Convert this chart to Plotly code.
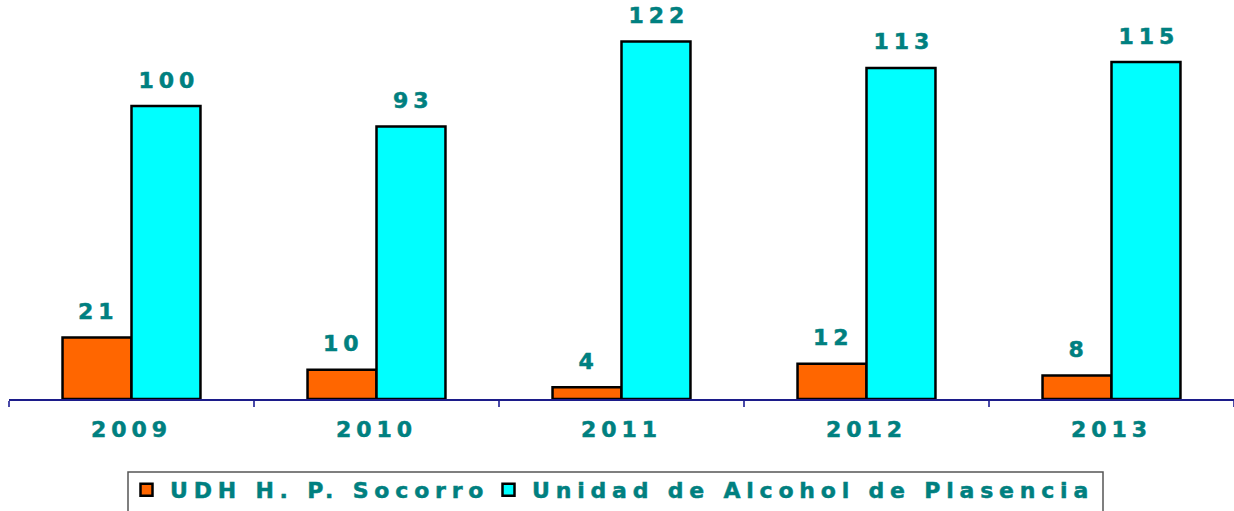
import plotly.graph_objects as go

years = ["2009", "2010", "2011", "2012", "2013"]
series_names = ["UDH H. P. Socorro", "Unidad de Alcohol de Plasencia"]
socorro = [21, 10, 4, 12, 8]
plasencia = [100, 93, 122, 113, 115]

TEAL = "#008080"
FONT = "DejaVu Sans"
FS = 22
W, H = 1234, 511
ML, MR, MT, MB = 9, 0, 0, 112
plot_w = W - ML - MR
plot_h = H - MT - MB

fig = go.Figure()
for name, vals, col, lg in [(series_names[0], socorro, "#FF6600", "legend"),
                            (series_names[1], plasencia, "#00FFFF", "legend2")]:
    fig.add_trace(go.Bar(
        x=years, y=vals, name=name, legend=lg,
        marker=dict(color=col, line=dict(color="#000000", width=2.5)),
    ))

annotations = []
for vals, shift in [(socorro, -35), (plasencia, 35)]:
    for i, v in enumerate(vals):
        annotations.append(dict(
            x=i, y=v, xref="x", yref="y", text=str(v), showarrow=False,
            xshift=shift + 2, yshift=26, yanchor="middle",
            font=dict(family=FONT, size=FS, color=TEAL, weight="bold"),
        ))

legend_common = dict(
    orientation="h", xanchor="left", yanchor="top",
    y=(399 - 469) / plot_h,
    font=dict(family=FONT, size=FS, color=TEAL, weight="bold"),
    bgcolor="rgba(0,0,0,0)", borderwidth=0, itemwidth=37,
    entrywidthmode="pixels",
)

fig.update_layout(
    width=W, height=H,
    margin=dict(l=ML, r=MR, t=MT, b=MB, autoexpand=False),
    paper_bgcolor="white", plot_bgcolor="white",
    barmode="group", bargap=0.437, bargroupgap=0,
    showlegend=True,
    legend=dict(x=(123 - 9) / plot_w, entrywidth=330, **legend_common),
    legend2=dict(x=(485 - 9) / plot_w, entrywidth=590, **legend_common),
    xaxis=dict(
        type="category", categoryorder="array", categoryarray=years,
        range=[-0.5, len(years) - 0.5], automargin=False,
        showline=True, linecolor="#1c1c8a", linewidth=1.5,
        ticks="outside", tickson="boundaries", ticklen=6, tickcolor="#4a4aa8",
        tickwidth=1.5, showgrid=False, ticklabelstandoff=10,
        tickfont=dict(family=FONT, size=FS, color=TEAL, weight="bold"),
    ),
    yaxis=dict(visible=False, range=[0, 399 / 2.93], showgrid=False,
               automargin=False),
    annotations=annotations,
    shapes=[dict(
        type="rect", xref="paper", yref="paper",
        x0=(128 - 9) / plot_w, x1=(1103 - 9) / plot_w,
        y0=-0.45, y1=(399 - 472) / plot_h,
        line=dict(color="#555555", width=1.5), fillcolor="rgba(0,0,0,0)",
    )],
)

post = """
document.body.style.margin = '0';
var s = document.createElement('style');
s.textContent =
  '.xtick text, .annotation-text {letter-spacing:5px !important; stroke:#008080 !important; stroke-width:0.5px !important;}' +
  'text.legendtext, .legend text, [class*=legend] text {letter-spacing:5.8px !important; stroke:#008080 !important; stroke-width:0.5px !important;}';
document.head.appendChild(s);
"""
fig.write_html("out.html", post_script=post,
               config={"displayModeBar": False, "staticPlot": True})
